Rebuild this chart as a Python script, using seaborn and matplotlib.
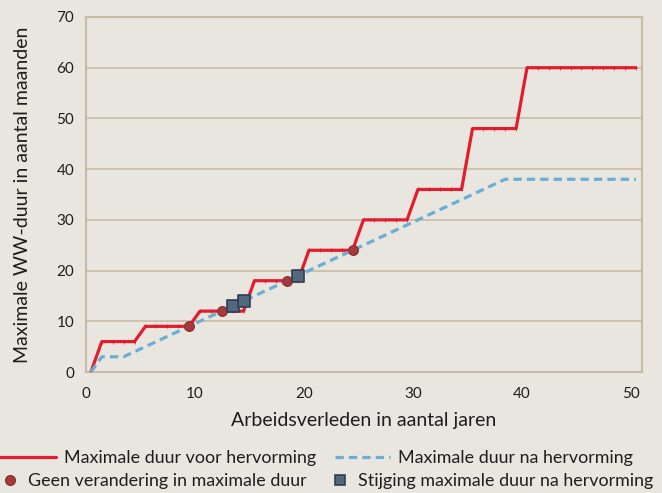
import numpy as np
import pandas as pd
import matplotlib
matplotlib.use("Agg")
import matplotlib.pyplot as plt
import seaborn as sns
from matplotlib.lines import Line2D

# arbeidsverleden (jaren) en maximale WW-duur (maanden)
jaren = list(range(0, 51))
duur_voor = [0, 6, 6, 6, 6, 9, 9, 9, 9, 9,
             12, 12, 12, 12, 12, 18, 18, 18, 18, 18,
             24, 24, 24, 24, 24, 30, 30, 30, 30, 30,
             36, 36, 36, 36, 36, 48, 48, 48, 48, 48,
             60, 60, 60, 60, 60, 60, 60, 60, 60, 60, 60]
duur_na = [0, 3, 3, 3, 4, 5, 6, 7, 8, 9,
           10, 11, 12, 13, 14, 15, 16, 17, 18, 19,
           20, 21, 22, 23, 24, 25, 26, 27, 28, 29,
           30, 31, 32, 33, 34, 35, 36, 37, 38, 38,
           38, 38, 38, 38, 38, 38, 38, 38, 38, 38, 38]

geen_verandering_jaren = [9, 12, 18, 24]
geen_verandering_duur = [9, 12, 18, 24]
stijging_jaren = [13, 14, 19]
stijging_duur = [13, 14, 19]

labels = ["Maximale duur voor hervorming", "Maximale duur na hervorming",
          "Geen verandering in maximale duur", "Stijging maximale duur na hervorming"]

RED = "#e31d2e"
BLUE = "#6aaed6"
CIRCLE = "#a53a3b"
SQUARE = "#53687d"
BG = "#e8e6de"
GRID = "#c8bca8"
TEXT = "#1e1e1e"

offset = 0.45  # Excel-categorie-as: punten tussen de maatstreepjes

sns.set_theme(style="white")
plt.rcParams["font.family"] = ["Lato", "DejaVu Sans"]
plt.rcParams["text.color"] = TEXT
plt.rcParams["axes.labelcolor"] = TEXT
plt.rcParams["xtick.color"] = TEXT
plt.rcParams["ytick.color"] = TEXT

lijnen = pd.DataFrame({"jaar": np.array(jaren) + offset, "voor": duur_voor, "na": duur_na})
rondjes = pd.DataFrame({"jaar": np.array(geen_verandering_jaren) + offset, "duur": geen_verandering_duur})
vierkantjes = pd.DataFrame({"jaar": np.array(stijging_jaren) + offset, "duur": stijging_duur})

fig = plt.figure(figsize=(6.62, 4.93), dpi=100, facecolor=BG)
ax = fig.add_axes([86 / 662, 1 - 372 / 493, (642 - 86) / 662, (372 - 17) / 493])
ax.set_facecolor(BG)

sns.lineplot(data=lijnen, x="jaar", y="voor", ax=ax, color=RED, linewidth=2.3,
             marker="|", markersize=3, markeredgewidth=0.5, markeredgecolor="#c81a28", zorder=3)
sns.lineplot(data=lijnen, x="jaar", y="na", ax=ax, color=BLUE, linewidth=2.3,
             dashes=False, zorder=3).lines[-1].set_dashes((2.6, 1.6))
sns.scatterplot(data=rondjes, x="jaar", y="duur", ax=ax, color=CIRCLE, s=50,
                edgecolor="#8c2f30", linewidth=0.8, zorder=4)
sns.scatterplot(data=vierkantjes, x="jaar", y="duur", ax=ax, marker="s", color=SQUARE, s=85,
                edgecolor="#2f3f52", linewidth=1.2, zorder=4)

ax.set_xlim(0, 51)
ax.set_ylim(0, 70)
ax.set_xticks(range(0, 51, 10))
ax.set_yticks(range(0, 71, 10))
ax.yaxis.grid(True, color=GRID, linewidth=1.2)
ax.set_axisbelow(True)
for s in ax.spines.values():
    s.set_color(GRID)
    s.set_linewidth(1.5)
ax.tick_params(axis="both", length=5, width=1, color=GRID, labelsize=11)
ax.tick_params(axis="x", pad=6)
ax.set_xlabel("Arbeidsverleden in aantal jaren", fontsize=14, labelpad=8)
ax.set_ylabel("Maximale WW-duur in aantal maanden", fontsize=14, labelpad=18)

h1 = [Line2D([], [], color=RED, linewidth=2.3),
      Line2D([], [], color=BLUE, linewidth=2.3, dashes=(2.6, 1.6))]
h2 = [Line2D([], [], linestyle="none", marker="o", markersize=7, color=CIRCLE, markeredgecolor="#8c2f30"),
      Line2D([], [], linestyle="none", marker="s", markersize=7, color=SQUARE, markeredgecolor="#2f3f52",
             markeredgewidth=1.2)]
fig.legend(h1, labels[:2], loc="center left", bbox_to_anchor=(0, 1 - 458 / 493), ncol=2,
           frameon=False, fontsize=12.9, handlelength=3.1, handletextpad=0.45,
           columnspacing=1.06, borderpad=0, borderaxespad=0)
fig.legend(h2, labels[2:], loc="center left", bbox_to_anchor=(0, 1 - 481 / 493), ncol=2,
           frameon=False, fontsize=12.9, handlelength=1.1, handletextpad=0.45,
           columnspacing=1.34, borderpad=0, borderaxespad=0)

fig.savefig("out.png", dpi=100, facecolor=BG)
